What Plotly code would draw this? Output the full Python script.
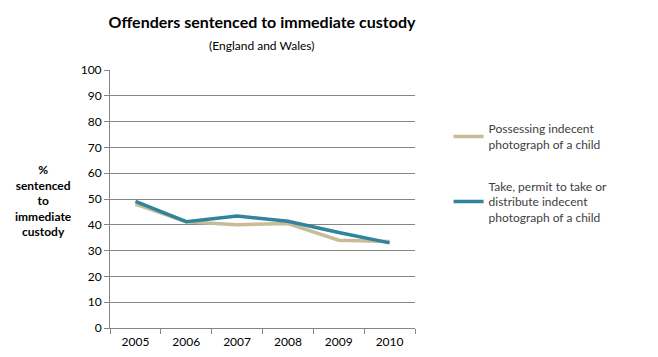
import plotly.graph_objects as go

years = ["2005", "2006", "2007", "2008", "2009", "2010"]
possessing = [48.0, 41.2, 40.0, 40.5, 34.0, 33.5]
take_permit = [49.1, 41.2, 43.4, 41.4, 37.0, 33.0]
series_names = ["Possessing indecent<br>photograph of a child",
                "Take, permit to take or<br>distribute indecent<br>photograph of a child"]
y_ticks = list(range(0, 101, 10))

# The page body has an 8px margin, so the figure is drawn 8px right/down.
W, H = 650, 349

fig = go.Figure()
fig.add_trace(go.Scatter(x=years, y=possessing, mode="lines", name=series_names[0],
                         legendgroup="a", line=dict(color="#C4BD97", width=3.5)))
fig.add_trace(go.Scatter(x=years, y=take_permit, mode="lines", name=series_names[1],
                         legendgroup="b", line=dict(color="#31849B", width=3.5)))

fig.update_layout(
    width=W, height=H,
    margin=dict(l=102, r=243, t=62, b=29),
    paper_bgcolor="white", plot_bgcolor="white",
    font=dict(family="Lato, Open Sans, sans-serif", size=11, color="#000000"),
    showlegend=True,
    legend=dict(x=1.11, y=0.828, xanchor="left", yanchor="top",
                font=dict(size=12, color="#404040"), tracegroupgap=23,
                traceorder="grouped", itemwidth=30,
                bgcolor="rgba(0,0,0,0)"),
    title=dict(text="<b>Offenders sentenced to immediate custody</b>", x=254/W, xanchor="center",
               y=1 - 14/H, yanchor="middle", font=dict(size=16, color="black")),
)
fig.add_annotation(text="(England and Wales)", xref="paper", yref="paper",
                   x=(262-110)/305, y=1 + (70-45)/258, showarrow=False,
                   font=dict(size=12, color="#000000"), xanchor="center", yanchor="middle")
fig.add_annotation(text="<b>%<br>sentenced<br>to<br>immediate<br>custody</b>", xref="paper", yref="paper",
                   x=(43-110)/305, y=(328-200)/258, showarrow=False, align="center",
                   font=dict(size=12, color="#000000"), xanchor="center", yanchor="middle")

fig.update_xaxes(type="category", range=[-0.5, 5.5], showline=True, linecolor="#868686", linewidth=1,
                 ticks="outside", tickson="boundaries", ticklen=5, tickcolor="#868686",
                 showgrid=False, tickfont=dict(size=12), ticklabelstandoff=3, automargin=False)
fig.update_yaxes(range=[0, 100], tickvals=y_ticks, showline=True, linecolor="#868686", linewidth=1,
                 ticks="outside", ticklen=5, tickcolor="#868686",
                 showgrid=True, gridcolor="#868686", gridwidth=1, zeroline=False,
                 tickfont=dict(size=12), automargin=False)

fig.write_html("out.html")
